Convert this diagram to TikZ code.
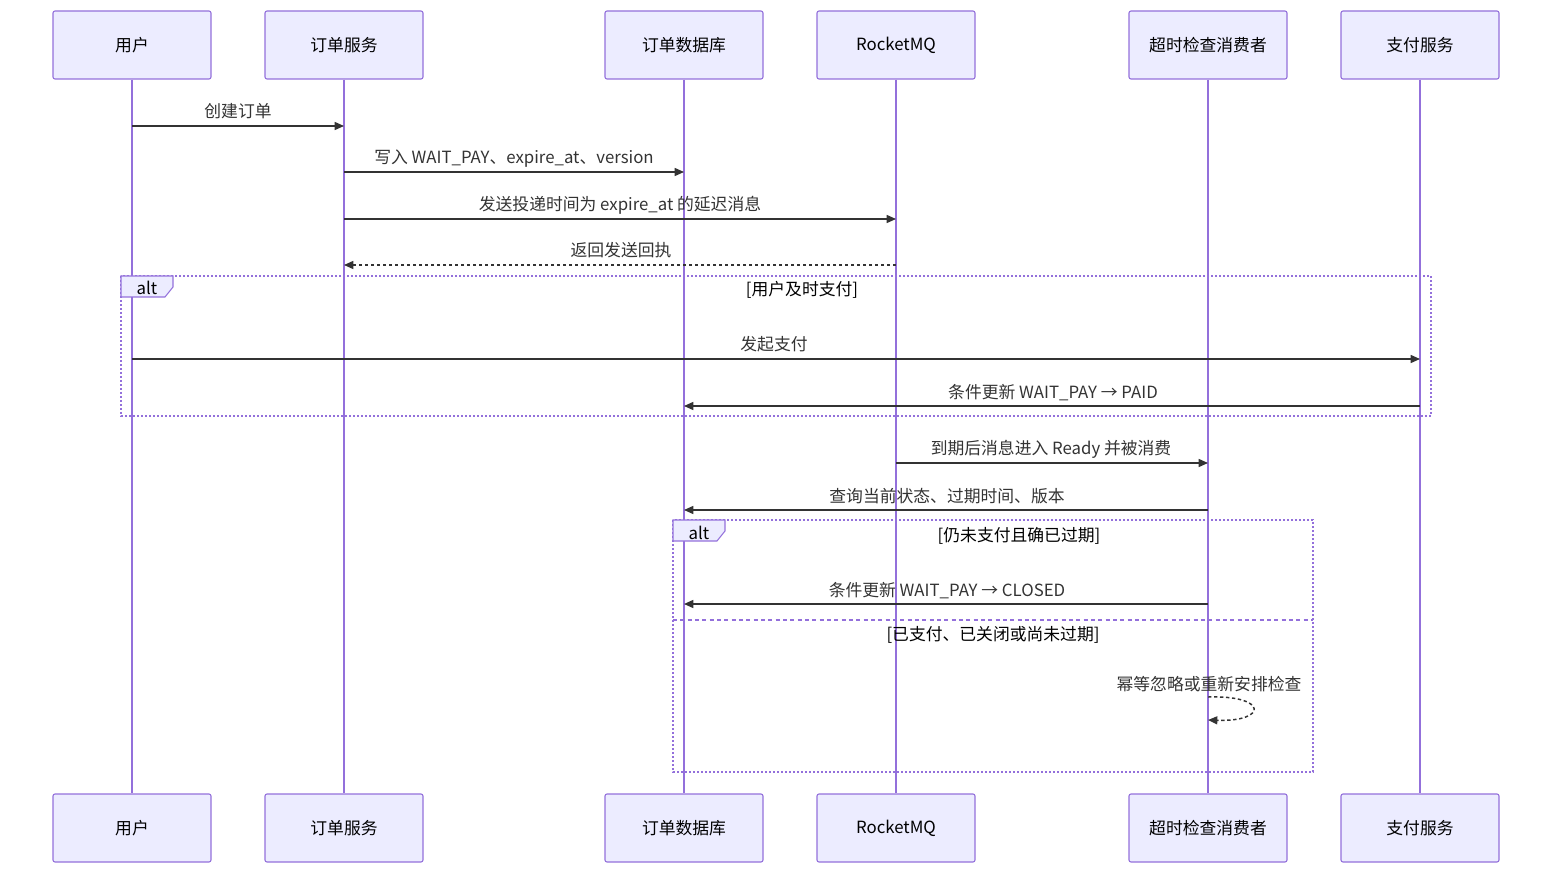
\documentclass[tikz,border=0pt]{standalone}
\usepackage{fontspec}
\setmainfont{Noto Sans CJK SC}
\usetikzlibrary{arrows.meta}
\definecolor{actfill}{HTML}{ECECFF}
\definecolor{actline}{HTML}{9370DB}
\definecolor{msgc}{HTML}{333333}
\begin{document}
\begin{tikzpicture}[x=0.75pt,y=-0.75pt,
  every node/.style={font=\fontsize{12.6}{14}\selectfont, inner sep=0pt},
  actor/.style={draw=actline, fill=actfill, line width=0.8pt, rounded corners=1.5pt,
    minimum width=118.5pt, minimum height=51pt, text=black},
  life/.style={draw=actline, line width=1.4pt},
  msg/.style={draw=msgc, line width=1.1pt, -{Triangle[length=7pt,width=6pt]}},
  ret/.style={msg, dash pattern=on 2.5pt off 2pt},
  lbl/.style={text=msgc, anchor=base},
  altbox/.style={draw=actline, line width=1.4pt, dash pattern=on 1.4pt off 1.6pt},
  tab/.style={draw=actline, fill=actfill, line width=0.8pt},
  divider/.style={draw=actline, line width=1.2pt, dash pattern=on 3pt off 2.5pt},
  cond/.style={text=black, anchor=base}]
\useasboundingbox (0,0) rectangle (1568,884);
% top actors
\node[actor] (u)  at (132,45) {用户};
\node[actor] (os) at (344,45) {订单服务};
\node[actor] (db) at (684,45) {订单数据库};
\node[actor] (mq) at (896,45) {RocketMQ};
\node[actor] (tc) at (1208,45) {超时检查消费者};
\node[actor] (ps) at (1420,45) {支付服务};
% bottom actors
\node[actor] (u2)  at (132,828) {用户};
\node[actor] (os2) at (344,828) {订单服务};
\node[actor] (db2) at (684,828) {订单数据库};
\node[actor] (mq2) at (896,828) {RocketMQ};
\node[actor] (tc2) at (1208,828) {超时检查消费者};
\node[actor] (ps2) at (1420,828) {支付服务};
% lifelines
\draw[life] (u.south) -- (u2.north);
\draw[life] (os.south) -- (os2.north);
\draw[life] (db.south) -- (db2.north);
\draw[life] (mq.south) -- (mq2.north);
\draw[life] (tc.south) -- (tc2.north);
\draw[life] (ps.south) -- (ps2.north);
% messages
\node[lbl] (l1) at (238,118) {创建订单};
\draw[msg] (u |- 0,126) -- (os |- 0,126);
\node[lbl] (l2) at (514,164) {写入 WAIT\_PAY、expire\_at、version};
\draw[msg] (os |- 0,172) -- (db |- 0,172);
\node[lbl] (l3) at (620,211) {发送投递时间为 expire\_at 的延迟消息};
\draw[msg] (os |- 0,219) -- (mq |- 0,219);
\node[lbl] (l4) at (621,257) {返回发送回执};
\draw[ret] (mq |- 0,265) -- (os |- 0,265);
% alt 1
\draw[altbox] (121,276) rectangle (1431,416);
\draw[tab] (121,276) -- (173,276) -- (173,287) -- (165,297) -- (121,297) -- cycle;
\node[cond] (a1) at (147,295) {alt};
\node[cond] (c1) at (802,296) {[用户及时支付]};
\node[lbl] (l5) at (774,351) {发起支付};
\draw[msg] (u |- 0,359) -- (ps |- 0,359);
\node[lbl] (l6) at (1053,398) {条件更新 WAIT\_PAY → PAID};
\draw[msg] (ps |- 0,406) -- (db |- 0,406);
% after
\node[lbl] (l7) at (1051,455) {到期后消息进入 Ready 并被消费};
\draw[msg] (mq |- 0,463) -- (tc |- 0,463);
\node[lbl] (l8) at (947,502) {查询当前状态、过期时间、版本};
\draw[msg] (tc |- 0,510) -- (db |- 0,510);
% alt 2
\draw[altbox] (673,520) rectangle (1313,772);
\draw[tab] (673,520) -- (725,520) -- (725,531) -- (717,541) -- (673,541) -- cycle;
\node[cond] (a2) at (699,539) {alt};
\node[cond] (c2) at (1019,541) {[仍未支付且确已过期]};
\node[lbl] (l9) at (947,596) {条件更新 WAIT\_PAY → CLOSED};
\draw[msg] (tc |- 0,604) -- (db |- 0,604);
\draw[divider] (673,620) -- (1313,620);
\node[cond] (c3) at (993,640) {[已支付、已关闭或尚未过期]};
\node[lbl] (l10) at (1209,690) {幂等忽略或重新安排检查};
\draw[ret] (tc |- 0,697) .. controls (1268,695) and (1268,722) .. (tc |- 0,720);
\end{tikzpicture}
\end{document}
